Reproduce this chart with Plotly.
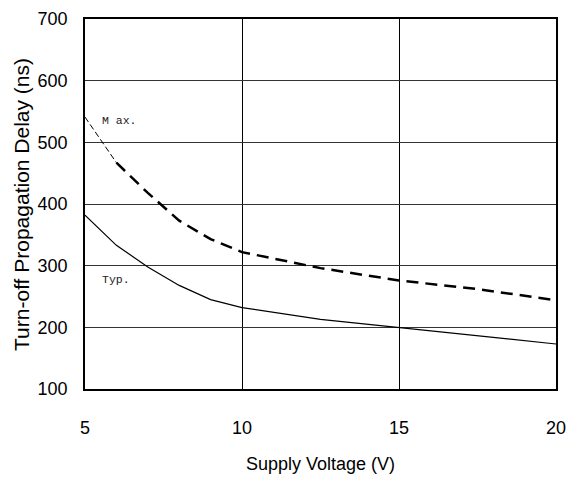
import plotly.graph_objects as go

voltage = [5, 6, 7, 8, 9, 10, 12.5, 15, 17.5, 20]
delay_max = [541, 467, 418, 373, 343, 322, 296, 276, 262, 244]
delay_typ = [382, 333, 298, 268, 245, 232, 213, 200, 186, 173]
x_ticks = [5, 10, 15, 20]
y_ticks = [100, 200, 300, 400, 500, 600, 700]

fig = go.Figure()
# thin initial segment of Max curve
fig.add_trace(go.Scatter(x=voltage[:2], y=delay_max[:2], mode="lines",
                         line=dict(color="black", width=1, dash="6px,3px"), showlegend=False))
fig.add_trace(go.Scatter(x=voltage[1:], y=delay_max[1:], mode="lines",
                         line=dict(color="black", width=2.5, dash="12px,7px"), showlegend=False))
fig.add_trace(go.Scatter(x=voltage, y=delay_typ, mode="lines",
                         line=dict(color="black", width=1.2), showlegend=False))

fig.add_annotation(x=5.48, y=536, text="M ax.", showarrow=False, xanchor="left",
                   font=dict(family="Liberation Mono", size=11.5, color="#222"))
fig.add_annotation(x=5.48, y=277, text="Typ.", showarrow=False, xanchor="left",
                   font=dict(family="Liberation Mono", size=11.5, color="#222"))
fig.add_annotation(xref="paper", yref="paper", x=-0.136, y=0.5, xanchor="center", yanchor="middle",
                   text="Turn-off Propagation Delay (ns)", textangle=-90, showarrow=False,
                   font=dict(family="Liberation Sans", size=21, color="black"))

fig.update_layout(
    width=574, height=479,
    margin=dict(l=85, r=18, t=19, b=90),
    paper_bgcolor="white", plot_bgcolor="white",
    font=dict(family="Liberation Sans", color="black"),
    xaxis=dict(range=[5, 20], tickvals=x_ticks, showgrid=True, gridcolor="black", gridwidth=1,
               showline=True, linecolor="black", linewidth=1.5, mirror=True,
               ticks="", ticklabelstandoff=22, tickfont=dict(size=18),
               title=dict(text="Supply Voltage (V)", font=dict(size=18), standoff=20),
               zeroline=False, automargin=False),
    yaxis=dict(range=[100, 700], tickvals=y_ticks, showgrid=True, gridcolor="#333", gridwidth=1,
               showline=True, linecolor="black", linewidth=1.5, mirror=True,
               ticks="", ticklabelstandoff=12, tickfont=dict(size=18),
               zeroline=False, automargin=False),
)
fig.write_html("out.html", config={"displayModeBar": False},
               post_script="document.body.style.margin='0';")
